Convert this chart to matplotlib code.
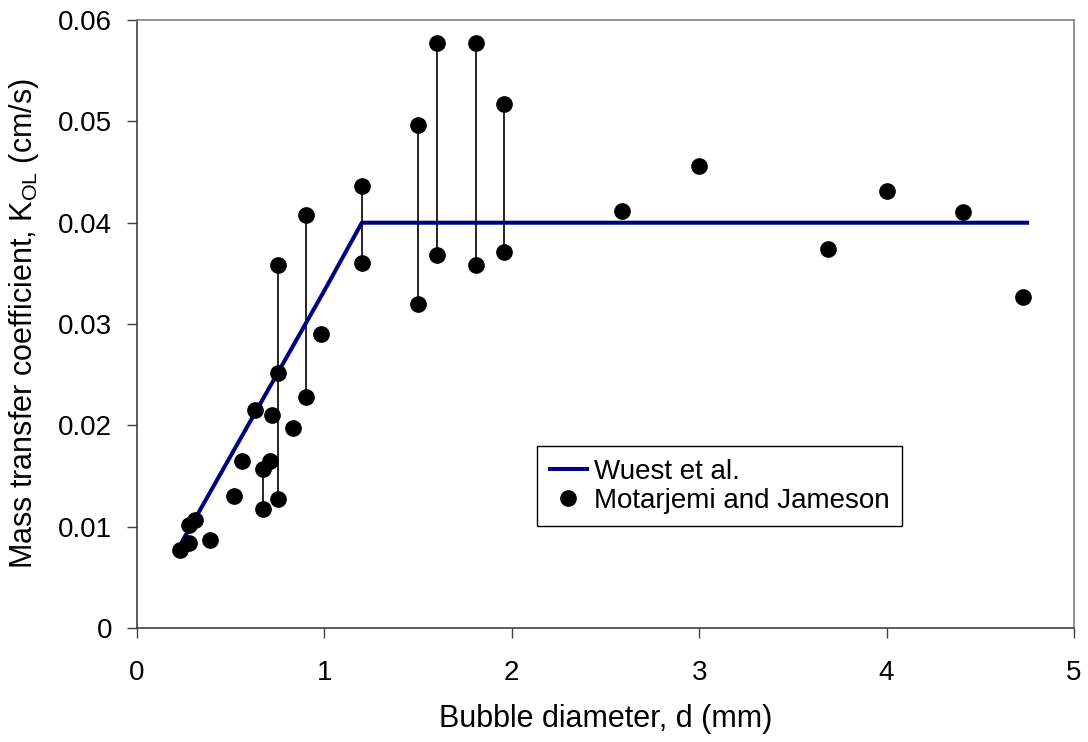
import matplotlib
matplotlib.use("Agg")
import matplotlib.pyplot as plt

plt.rcParams['font.family'] = ['Liberation Sans', 'DejaVu Sans']

# Motarjemi and Jameson data points
d_mm = [0.23, 0.28, 0.28, 0.31, 0.39, 0.52, 0.56, 0.63, 0.67, 0.67, 0.71, 0.72,
        0.75, 0.75, 0.75, 0.83, 0.90, 0.90, 0.98, 1.20, 1.20, 1.50, 1.50, 1.60,
        1.60, 1.81, 1.81, 1.96, 1.96, 2.59, 3.00, 3.69, 4.00, 4.41, 4.73]
kol = [0.0077, 0.0084, 0.0102, 0.0107, 0.0087, 0.0130, 0.0165, 0.0215, 0.0157,
       0.0117, 0.0165, 0.0210, 0.0252, 0.0127, 0.0358, 0.0197, 0.0228, 0.0408,
       0.0290, 0.0360, 0.0436, 0.0320, 0.0496, 0.0368, 0.0577, 0.0358, 0.0577,
       0.0371, 0.0517, 0.0412, 0.0456, 0.0374, 0.0431, 0.0411, 0.0327]

# vertical range bars
range_d = [0.67, 0.75, 0.90, 1.20, 1.50, 1.60, 1.81, 1.96]
range_lo = [0.0117, 0.0127, 0.0228, 0.0360, 0.0320, 0.0368, 0.0358, 0.0371]
range_hi = [0.0157, 0.0358, 0.0408, 0.0436, 0.0496, 0.0577, 0.0577, 0.0517]

# Wuest et al. model
wuest_d = [0.24, 1.0, 1.2, 4.75]
wuest_k = [0.0085, 0.0333, 0.0400, 0.0400]

fs = 20
label_fs = 22

fig = plt.figure(figsize=(10.88, 7.42), dpi=100)
ax = fig.add_axes([0.1259, 0.1536, 0.8612, 0.8194])

ax.vlines(range_d, range_lo, range_hi, colors='black', linewidth=1.2, zorder=2)
ax.plot(wuest_d, wuest_k, color='#000080', linewidth=2.9, label='Wuest et al.', zorder=3)
ax.plot(d_mm, kol, linestyle='none', marker='o', markersize=11, color='black',
        label='Motarjemi and Jameson', zorder=4)

ax.set_xlim(0, 5)
ax.set_ylim(0, 0.06)
ax.set_xticks([0, 1, 2, 3, 4, 5])
ax.set_yticks([0, 0.01, 0.02, 0.03, 0.04, 0.05, 0.06])
ax.set_yticklabels(['0', '0.01', '0.02', '0.03', '0.04', '0.05', '0.06'])
ax.tick_params(direction='out', length=7, width=1, color='#404040', labelsize=fs)
ax.tick_params(axis='x', pad=16)
ax.tick_params(axis='y', pad=10.8)

ax.set_xlabel('Bubble diameter, d (mm)', fontsize=label_fs, labelpad=13)
ax.set_ylabel(r'Mass transfer coefficient, K$_{\mathregular{OL}}$ (cm/s)',
              fontsize=label_fs, labelpad=12)

for s in ['left', 'bottom']:
    ax.spines[s].set_color('#404040')
    ax.spines[s].set_linewidth(1.2)
for s in ['top', 'right']:
    ax.spines[s].set_color('#808080')
    ax.spines[s].set_linewidth(1.2)

leg = ax.legend(loc='upper left', bbox_to_anchor=(0.427, 0.299), fontsize=fs,
                frameon=True, fancybox=False, edgecolor='black', framealpha=1,
                handlelength=1.35, handletextpad=0.25, borderpad=0.45, labelspacing=0.1,
                borderaxespad=0)
leg.get_frame().set_linewidth(1.0)

fig.savefig('out.png', dpi=100)
